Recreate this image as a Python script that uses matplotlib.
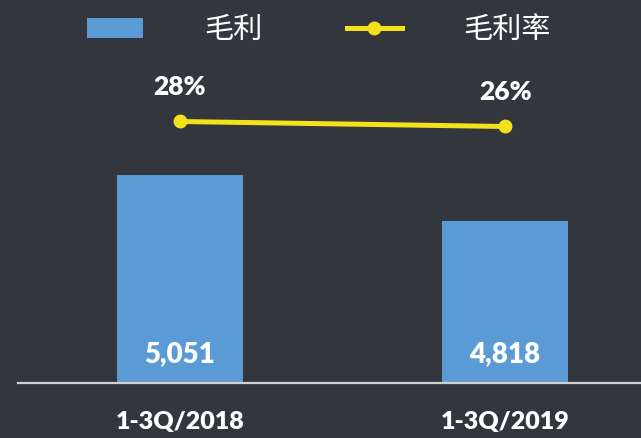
import matplotlib.pyplot as plt
from matplotlib.lines import Line2D
from matplotlib.patches import Patch

# 데이터
periods = ["1-3Q/2018", "1-3Q/2019"]
gross_profit = [5051, 4818]
gross_margin = [28, 26]
legend_labels = ["毛利", "毛利率"]

bar_color = "#5b9bd5"
line_color = "#f2e21b"
bg_color = "#33363d"

fig = plt.figure(figsize=(6.41, 4.38), dpi=100, facecolor=bg_color)
ax = fig.add_axes([18 / 641, 1 - 383 / 438, 1 - 18 / 641, (383 - 60) / 438])
ax.set_facecolor("none")

x = list(range(len(periods)))
ax.bar(x, gross_profit, width=0.39, color=bar_color, zorder=2)
ax.set_xlim(-0.498, 1.418)
ax.set_ylim(4000, 5632)

for i, v in enumerate(gross_profit):
    ax.annotate(f"{v:,}", xy=(i, 4000), xytext=(0, 21), textcoords="offset points",
                ha="center", va="center", color="white", fontsize=20,
                fontweight="heavy", family="Lato", zorder=3)

ax.set_xticks(x)
ax.set_xticklabels(periods, color="white", fontsize=18, fontweight="heavy", family="Lato")
ax.tick_params(axis="x", length=0, pad=20)
ax.set_yticks([])
for s in ["top", "right", "left"]:
    ax.spines[s].set_visible(False)
ax.spines["bottom"].set_color("#d0d0d0")
ax.spines["bottom"].set_linewidth(1.6)

ax2 = ax.twinx()
ax2.plot(x, gross_margin, color=line_color, lw=3.6, marker="o", markersize=9, zorder=4)
ax2.set_ylim(-76.6, 52.6)
ax2.set_yticks([])
for s in ax2.spines.values():
    s.set_visible(False)

for i, v in enumerate(gross_margin):
    ax2.annotate(f"{v}%", xy=(i, v), xytext=(0, 25), textcoords="offset points",
                 ha="center", va="center", color="white", fontsize=19,
                 fontweight="heavy", family="Lato")

handles = [Patch(facecolor=bar_color, edgecolor="none"),
           Line2D([0], [0], color=line_color, lw=3.6, marker="o", markersize=9)]
leg = fig.legend(handles, legend_labels, loc="center", bbox_to_anchor=(319 / 641, 1 - 30 / 438),
                 ncol=2, frameon=False, handlelength=1.9, handletextpad=2.1,
                 columnspacing=2.9,
                 prop={"family": ["Noto Sans CJK SC", "DejaVu Sans"], "size": 21, "weight": "light"})
for t in leg.get_texts():
    t.set_color("white")

fig.savefig("out.png", dpi=100, facecolor=bg_color)
